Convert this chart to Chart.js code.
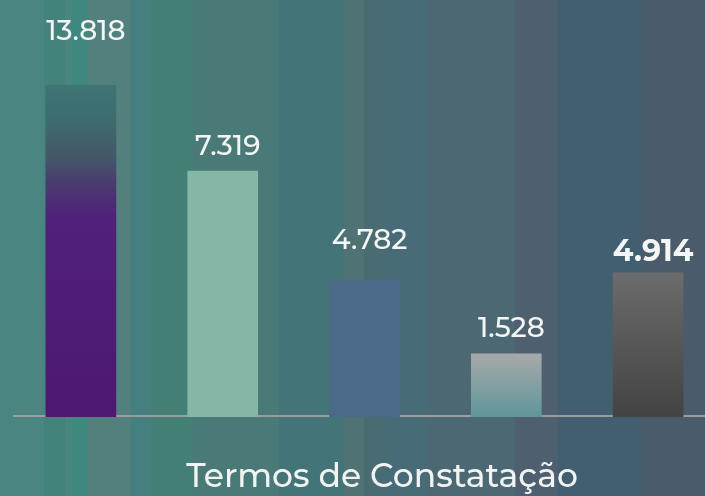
<!DOCTYPE html>
<html lang="pt-BR">
<head>
<meta charset="utf-8">
<title>Termos de Constatação</title>
<script src="https://cdn.jsdelivr.net/npm/chart.js@4.4.1/dist/chart.umd.min.js"></script>
<style>
    html, body {
        margin: 0;
        padding: 0;
        width: 705px;
        height: 496px;
        overflow: hidden;
    }
    body {
        background: linear-gradient(to right,
            #4b8582 0px, #4b8582 44px,
            #43837c 44px, #43837c 65px,
            #4a8580 65px, #4a8580 72px,
            #3f8880 72px, #3f8880 88px,
            #52807c 88px, #52807c 130px,
            #467f80 130px, #467f80 151px,
            #447f76 151px, #447f76 193px,
            #497a77 193px, #497a77 279px,
            #437478 279px, #437478 344px,
            #4f7374 344px, #4f7374 364px,
            #486c72 364px, #486c72 387px,
            #486b78 387px, #486b78 427px,
            #4b6873 427px, #4b6873 515px,
            #4e6070 515px, #4e6070 558px,
            #425f72 558px, #425f72 641px,
            #4a5b6b 641px, #4a5b6b 705px);
    }
    .chart-box {
        position: relative;
        width: 720px;
        height: 496px;
    }
</style>
</head>
<body>
<div class="chart-box">
    <canvas id="termosChart"></canvas>
</div>
<script>
// Dados
var categorias = ['A', 'B', 'C', 'D', 'E'];
var rotulos = ['13.818', '7.319', '4.782', '1.528', '4.914'];
// altura de cada barra (% da maior)
var alturas = [100, 74.1, 41.0, 19.0, 43.4];
var titulo = 'Termos de Constatação';

(function () {
    'use strict';

    var fonte = 'Montserrat, Inter, "Open Sans", sans-serif';
    var coresSolidas = [null, '#84b7a5', '#4b6a89', null, null];
    var degrades = [
        [[0, '#3f7575'], [0.12, '#3e6a6c'], [0.22, '#44566a'], [0.3, '#4a3a6f'], [0.4, '#50207a'], [1, '#4d1872']],
        null,
        null,
        [[0, '#a8a8a8'], [1, '#5e979b']],
        [[0, '#6b6b6b'], [1, '#434343']]
    ];
    // distancia do rotulo ao topo da barra
    var recuoRotulo = [45, 16, 32, 17, 12];

    function corBarra(ctx) {
        var i = ctx.dataIndex;
        if (!degrades[i]) return coresSolidas[i];
        var chart = ctx.chart;
        if (!chart.chartArea || !chart.scales.y) return degrades[i][0][1];
        var y = chart.scales.y;
        var topo = y.getPixelForValue(alturas[i]);
        var base = y.getPixelForValue(0);
        var g = chart.ctx.createLinearGradient(0, topo, 0, base);
        degrades[i].forEach(function (s) { g.addColorStop(s[0], s[1]); });
        return g;
    }

    var linhaBase = {
        id: 'linhaBase',
        beforeDatasetsDraw: function (chart) {
            var c = chart.ctx;
            var b = chart.chartArea.bottom;
            c.save();
            c.fillStyle = '#9c9c9c';
            c.fillRect(13, b - 2, chart.width - 13, 2);
            c.restore();
        }
    };

    var rotulosBarras = {
        id: 'rotulosBarras',
        afterDatasetsDraw: function (chart) {
            var c = chart.ctx;
            var meta = chart.getDatasetMeta(0);
            c.save();
            c.textAlign = 'center';
            c.textBaseline = 'alphabetic';
            c.fillStyle = '#f4f6f6';
            meta.data.forEach(function (bar, i) {
                var ultimo = i === rotulos.length - 1;
                c.font = (ultimo ? '700 30px ' : '500 28px ') + fonte;
                c.fillText(rotulos[i], bar.x + 5, bar.y - recuoRotulo[i]);
            });
            c.restore();
        }
    };

    var tituloBase = {
        id: 'tituloBase',
        afterDraw: function (chart) {
            var c = chart.ctx;
            c.save();
            c.font = '500 33px ' + fonte;
            c.textAlign = 'center';
            c.textBaseline = 'alphabetic';
            c.fillStyle = '#f2f4f4';
            c.fillText(titulo, 382, 487);
            c.restore();
        }
    };

    new Chart(document.getElementById('termosChart'), {
        type: 'bar',
        data: {
            labels: categorias,
            datasets: [{
                data: alturas,
                backgroundColor: corBarra,
                borderWidth: 0,
                barThickness: 70
            }]
        },
        options: {
            responsive: true,
            maintainAspectRatio: false,
            animation: false,
            layout: { padding: { top: 85, bottom: 79, left: 10, right: 1 } },
            plugins: {
                legend: { display: false },
                tooltip: { enabled: false }
            },
            scales: {
                x: { display: false },
                y: { display: false, min: 0, max: 100 }
            }
        },
        plugins: [linhaBase, rotulosBarras, tituloBase]
    });
})();
</script>
</body>
</html>
